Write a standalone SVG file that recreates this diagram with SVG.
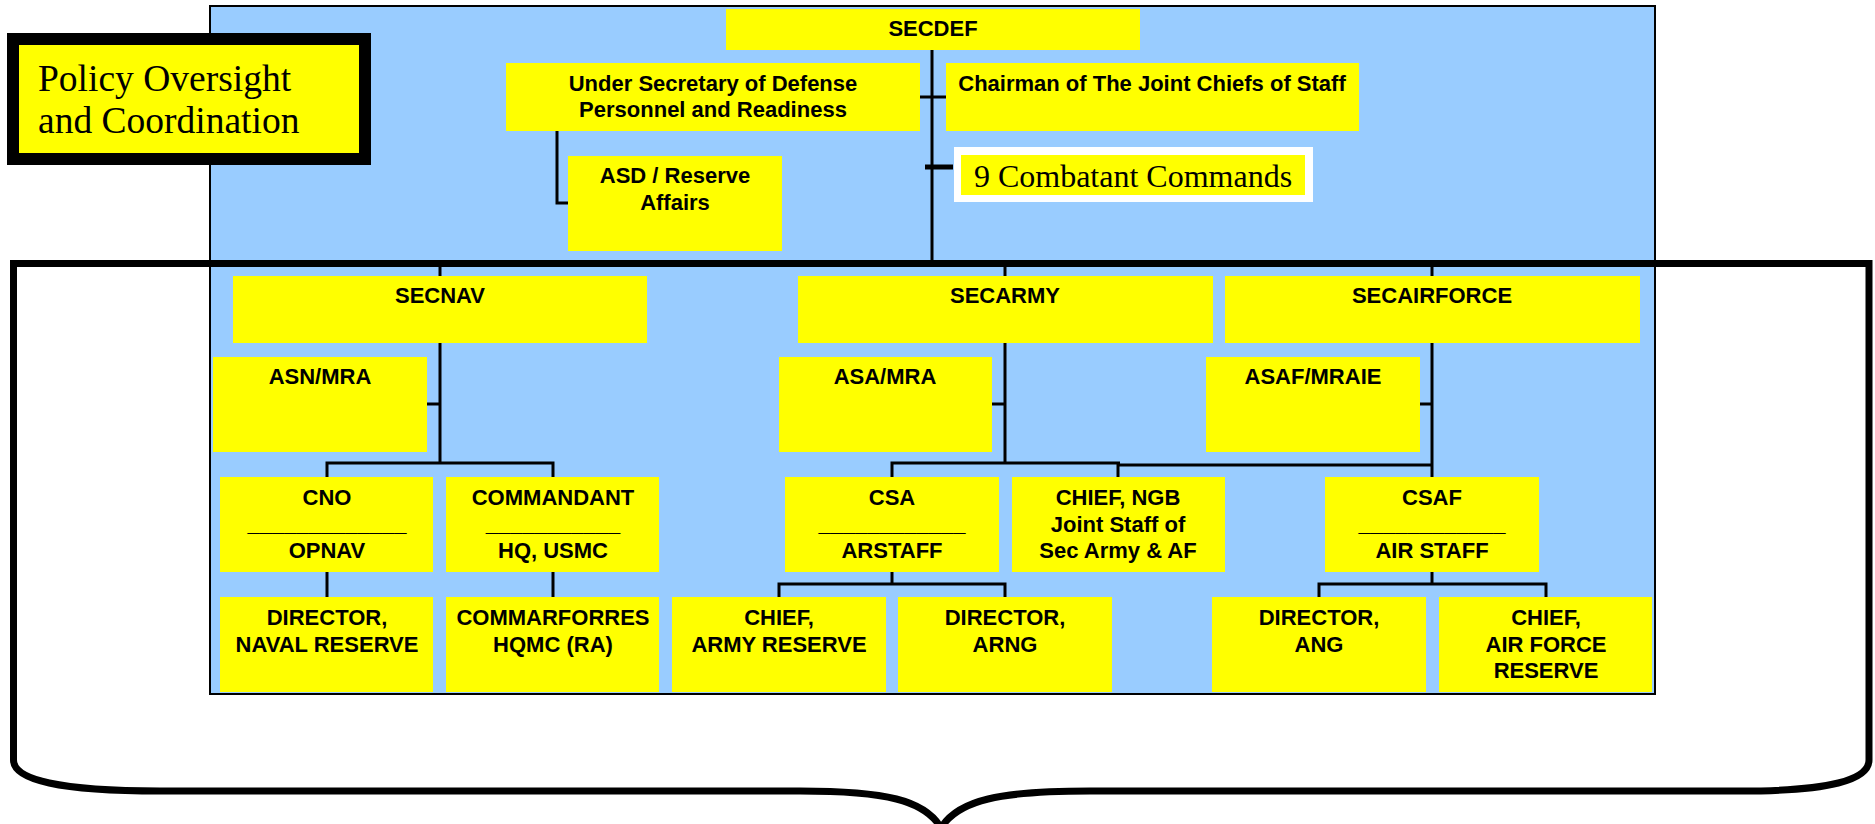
<svg xmlns="http://www.w3.org/2000/svg" width="1875" height="824" viewBox="0 0 1875 824">
<style>
.box{fill:#FFFF00;}
.t{font-family:"Liberation Sans",Arial,sans-serif;font-weight:bold;font-size:22px;fill:#000;text-anchor:middle;}
.s{font-family:"Liberation Serif","Times New Roman",serif;fill:#000;}
.c{fill:none;stroke:#000;stroke-width:3;}
</style>
<rect x="0" y="0" width="1875" height="824" fill="#FFFFFF"/>
<rect id="frame" x="210" y="6" width="1445" height="688" fill="#99CCFF" stroke="#000" stroke-width="2"/>
<path id="bracket" d="M941,828 C925,800 885,791 800,791 L160,791 C60,791 13.5,780 13.5,760 L13.5,263.5 L1869,263.5 L1869,760 C1869,780 1830,791 1740,791 L1090,791 C1000,791 958,800 941,828" fill="none" stroke="#000" stroke-width="7" stroke-linejoin="miter"/>
<g id="connectors">
<path class="c" d="M932,50 V263"/>
<path class="c" d="M920,97 H946"/>
<path d="M925,167 H953" stroke="#000" stroke-width="5" fill="none"/>
<path class="c" d="M557,131 V203 H568"/>
<path class="c" d="M440,263 V276"/>
<path class="c" d="M1005,263 V276"/>
<path class="c" d="M1432,263 V276"/>
<path class="c" d="M440,343 V463"/>
<path class="c" d="M427,404 H440"/>
<path class="c" d="M327,477 V463 H553 V477"/>
<path class="c" d="M327,572 V597"/>
<path class="c" d="M553,572 V597"/>
<path class="c" d="M1005,343 V463"/>
<path class="c" d="M992,404 H1005"/>
<path class="c" d="M892,477 V463 H1120"/>
<path class="c" d="M1118,477 V465 H1432"/>
<path class="c" d="M1432,343 V477"/>
<path class="c" d="M1420,404 H1432"/>
<path class="c" d="M892,572 V584"/>
<path class="c" d="M779,597 V584 H1005 V597"/>
<path class="c" d="M1432,572 V584"/>
<path class="c" d="M1319,597 V584 H1546 V597"/>
</g>
<g id="policy">
<rect x="13" y="39" width="352" height="120" fill="#FFFF00" stroke="#000" stroke-width="12"/>
<text class="s" x="38" y="91" font-size="37.5">Policy Oversight</text>
<text class="s" x="38" y="133" font-size="37.5">and Coordination</text>
</g>
<g id="secdef">
<rect class="box" x="726" y="9" width="414" height="41"/>
<text class="t" x="933" y="36">SECDEF</text>
</g>
<g id="usd">
<rect class="box" x="506" y="63" width="414" height="68"/>
<text class="t" x="713" y="91">Under Secretary of Defense</text>
<text class="t" x="713" y="117">Personnel and Readiness</text>
</g>
<g id="cjcs">
<rect class="box" x="946" y="63" width="413" height="68"/>
<text class="t" x="1152" y="91">Chairman of The Joint Chiefs of Staff</text>
</g>
<g id="asd">
<rect class="box" x="568" y="156" width="214" height="95"/>
<text class="t" x="675" y="183">ASD / Reserve</text>
<text class="t" x="675" y="210">Affairs</text>
</g>
<g id="cocom">
<rect x="954" y="147" width="359" height="55" fill="#FFFFFF"/>
<rect class="box" x="961" y="155" width="344" height="40"/>
<text class="s" x="1133" y="187" font-size="32" text-anchor="middle">9 Combatant Commands</text>
</g>
<g id="secnav">
<rect class="box" x="233" y="276" width="414" height="67"/>
<text class="t" x="440" y="303">SECNAV</text>
</g>
<g id="secarmy">
<rect class="box" x="798" y="276" width="415" height="67"/>
<text class="t" x="1005" y="303">SECARMY</text>
</g>
<g id="secairforce">
<rect class="box" x="1225" y="276" width="415" height="67"/>
<text class="t" x="1432" y="303">SECAIRFORCE</text>
</g>
<g id="asnmra">
<rect class="box" x="213" y="357" width="214" height="95"/>
<text class="t" x="320" y="384">ASN/MRA</text>
</g>
<g id="asamra">
<rect class="box" x="779" y="357" width="213" height="95"/>
<text class="t" x="885" y="384">ASA/MRA</text>
</g>
<g id="asafmraie">
<rect class="box" x="1206" y="357" width="214" height="95"/>
<text class="t" x="1313" y="384">ASAF/MRAIE</text>
</g>
<g id="cno">
<rect class="box" x="220" y="477" width="213" height="95"/>
<text class="t" x="327" y="505">CNO</text>
<text class="t" x="327" y="531">_____________</text>
<text class="t" x="327" y="558">OPNAV</text>
</g>
<g id="commandant">
<rect class="box" x="446" y="477" width="213" height="95"/>
<text class="t" x="553" y="505">COMMANDANT</text>
<text class="t" x="553" y="531">___________</text>
<text class="t" x="553" y="558">HQ, USMC</text>
</g>
<g id="csa">
<rect class="box" x="785" y="477" width="214" height="95"/>
<text class="t" x="892" y="505">CSA</text>
<text class="t" x="892" y="531">____________</text>
<text class="t" x="892" y="558">ARSTAFF</text>
</g>
<g id="ngb">
<rect class="box" x="1012" y="477" width="213" height="95"/>
<text class="t" x="1118" y="505">CHIEF, NGB</text>
<text class="t" x="1118" y="532">Joint Staff of</text>
<text class="t" x="1118" y="558">Sec Army &amp; AF</text>
</g>
<g id="csaf">
<rect class="box" x="1325" y="477" width="214" height="95"/>
<text class="t" x="1432" y="505">CSAF</text>
<text class="t" x="1432" y="531">____________</text>
<text class="t" x="1432" y="558">AIR STAFF</text>
</g>
<g id="dirnavres">
<rect class="box" x="220" y="597" width="213" height="95"/>
<text class="t" x="327" y="625">DIRECTOR,</text>
<text class="t" x="327" y="652">NAVAL RESERVE</text>
</g>
<g id="commarforres">
<rect class="box" x="446" y="597" width="213" height="95"/>
<text class="t" x="553" y="625">COMMARFORRES</text>
<text class="t" x="553" y="652">HQMC (RA)</text>
</g>
<g id="chiefar">
<rect class="box" x="672" y="597" width="214" height="95"/>
<text class="t" x="779" y="625">CHIEF,</text>
<text class="t" x="779" y="652">ARMY RESERVE</text>
</g>
<g id="dirarng">
<rect class="box" x="898" y="597" width="214" height="95"/>
<text class="t" x="1005" y="625">DIRECTOR,</text>
<text class="t" x="1005" y="652">ARNG</text>
</g>
<g id="dirang">
<rect class="box" x="1212" y="597" width="214" height="95"/>
<text class="t" x="1319" y="625">DIRECTOR,</text>
<text class="t" x="1319" y="652">ANG</text>
</g>
<g id="chiefafr">
<rect class="box" x="1439" y="597" width="213" height="95"/>
<text class="t" x="1546" y="625">CHIEF,</text>
<text class="t" x="1546" y="652">AIR FORCE</text>
<text class="t" x="1546" y="678">RESERVE</text>
</g>
</svg>
